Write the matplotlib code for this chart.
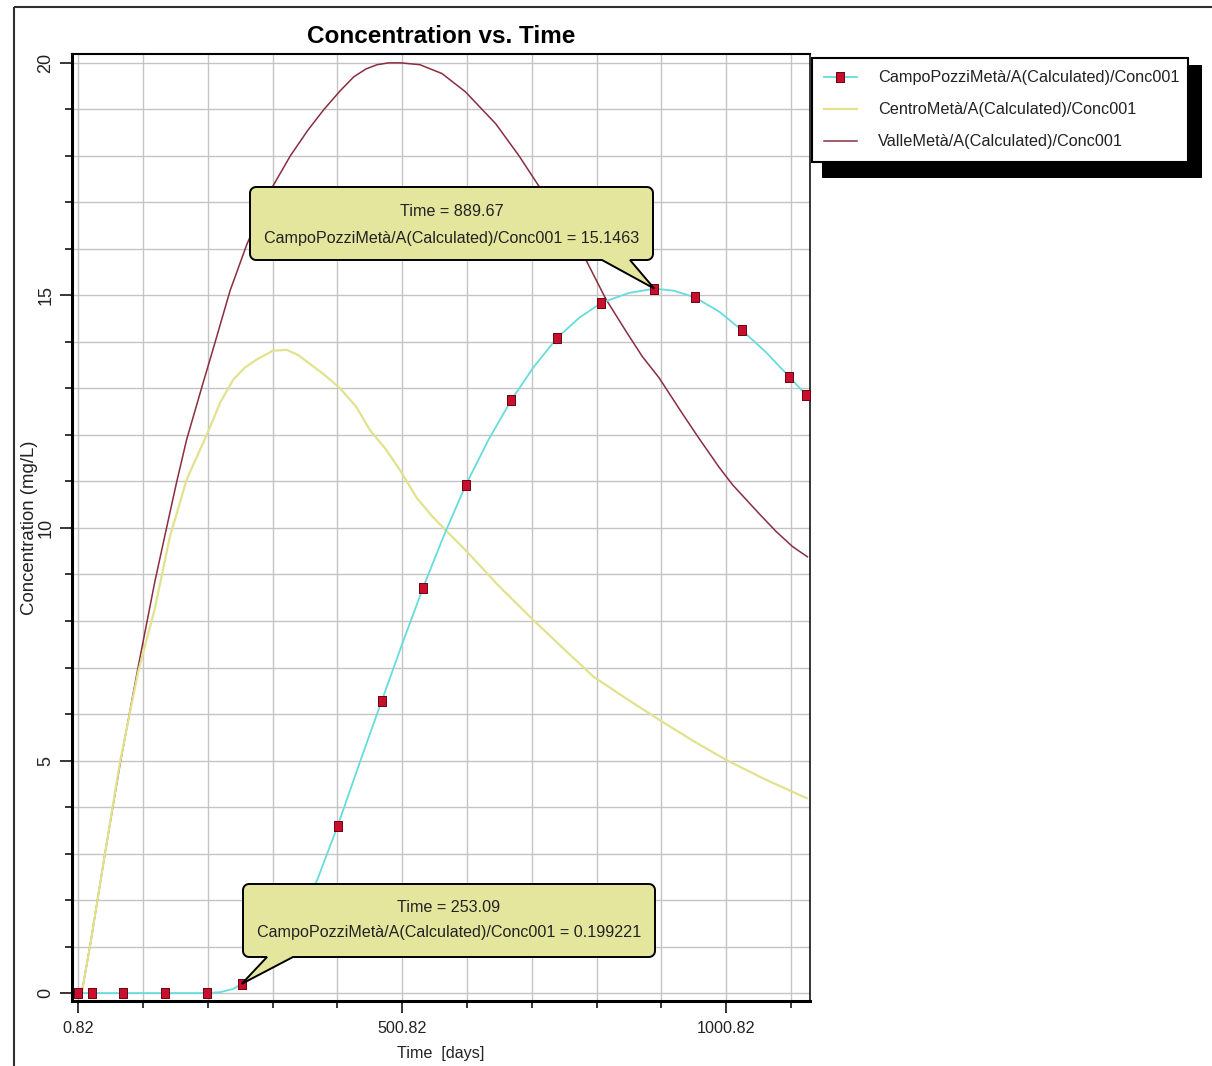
import matplotlib
matplotlib.use("Agg")
import matplotlib.pyplot as plt
import numpy as np
import matplotlib.transforms as mtransforms
from matplotlib.patches import Polygon, Rectangle

# values
campo_t = [0.82, 22, 70, 134, 200, 220, 240, 253.09, 270, 290, 310, 330, 350, 370,
           401, 435, 469, 501, 533, 566, 599, 634, 669, 704, 740, 774, 808, 850,
           889.67, 920, 952, 990, 1025, 1062, 1098, 1124]
campo_c = [0, 0, 0, 0, 0, 0.02, 0.09, 0.199221, 0.4, 0.7, 1.05, 1.45, 1.9, 2.45,
           3.59, 4.95, 6.28, 7.52, 8.72, 9.87, 10.93, 11.9, 12.75, 13.47, 14.09, 14.52,
           14.84, 15.05, 15.1463, 15.1, 14.96, 14.65, 14.25, 13.78, 13.25, 12.86]
campo_marks = [0, 1, 2, 3, 4, 7, 11, 14, 16, 18, 20, 22, 24, 26, 28, 30, 32, 34, 35]

centro_t = [6, 20, 42, 65, 93, 119, 142, 168, 199, 220, 240, 258, 276, 301, 322, 340,
            358, 380, 405, 430, 451, 475, 497, 523, 547, 575, 600, 650, 703, 750, 796,
            850, 898, 950, 1001, 1060, 1125]
centro_c = [0, 1.1, 3.0, 4.95, 6.9, 8.27, 9.8, 11.04, 12.0, 12.7, 13.19, 13.45, 13.62,
            13.81, 13.83, 13.72, 13.53, 13.3, 13.0, 12.6, 12.1, 11.7, 11.25, 10.65, 10.25,
            9.85, 9.5, 8.75, 8.02, 7.4, 6.8, 6.3, 5.87, 5.42, 5.01, 4.6, 4.19]

valle_t = [6, 20, 42, 65, 93, 119, 137, 152, 168, 193, 210, 235, 261, 297, 328, 355,
           380, 405, 426, 445, 462, 480, 498, 528, 562, 598, 645, 681, 712, 753, 784,
           815, 846, 871, 897, 933, 959, 990, 1011, 1052, 1078, 1103, 1126]
valle_c = [0, 1.1, 3.0, 4.9, 7.0, 8.85, 10.0, 10.95, 11.9, 13.1, 13.9, 15.1, 16.1,
           17.25, 18.0, 18.55, 19.0, 19.4, 19.7, 19.87, 19.96, 20.0, 20.0, 19.96, 19.77,
           19.38, 18.69, 18.0, 17.34, 16.54, 15.77, 14.92, 14.23, 13.69, 13.23, 12.46,
           11.92, 11.3, 10.92, 10.3, 9.92, 9.6, 9.38]

series_labels = ["CampoPozziMetà/A(Calculated)/Conc001",
                 "CentroMetà/A(Calculated)/Conc001",
                 "ValleMetà/A(Calculated)/Conc001"]

x_major = [0.82, 500.82, 1000.82]
x_major_labels = ["0.82", "500.82", "1000.82"]
y_major = [0, 5, 10, 15, 20]

callouts = [(889.67, 15.1463), (253.09, 0.199221)]

SANS = ["Liberation Sans", "DejaVu Sans"]
plt.rcParams["font.family"] = SANS

W, H = 1212, 1066
fig = plt.figure(figsize=(W / 100, H / 100), dpi=100)
ax = fig.add_axes([72 / W, 1 - 1001 / H, (810 - 72) / W, (1001 - 54) / H])
ax.set_xlim(-8.9, 1130)
ax.set_ylim(-0.17, 20.19)

# image-pixel transform (origin top left)
px = mtransforms.Affine2D().scale(1 / W, -1 / H).translate(0, 1) + fig.transFigure

rect_marker = [(-0.41, -0.5), (0.41, -0.5), (0.41, 0.5), (-0.41, 0.5), (-0.41, -0.5)]

l_valle, = ax.plot(valle_t, valle_c, color="#8a2d3f", lw=1.1, zorder=3)
l_centro, = ax.plot(centro_t, centro_c, color="#e2e28e", lw=1.6, zorder=3)
l_campo, = ax.plot(campo_t, campo_c, color="#66dcdc", lw=1.3, marker=rect_marker,
                   markevery=campo_marks, ms=7.4, mfc="#c8102e", mec="#700010",
                   mew=0.7, zorder=4)

# ticks and grid
ax.set_xticks(x_major)
ax.set_xticklabels(x_major_labels)
ax.set_xticks(np.arange(0.82, 1130, 100), minor=True)
ax.set_yticks(y_major)
ax.set_yticks(np.arange(0, 21, 1), minor=True)
ax.tick_params(which="major", length=8.6, width=1.1, direction="out", pad=5.5,
               labelsize=11.6, labelcolor="#222222")
ax.tick_params(axis="y", which="major", pad=4)
ax.tick_params(which="minor", length=5, width=1.1, direction="out")
for lab in ax.get_yticklabels():
    lab.set_rotation(90)
    lab.set_fontsize(13)
    lab.set_va("center")
ax.grid(True, which="both", color="#c4c4c4", lw=1.0)
ax.set_axisbelow(True)

for side, lw in [("left", 2.2), ("bottom", 2.2), ("top", 1.5), ("right", 1.1)]:
    ax.spines[side].set_linewidth(lw)
    ax.spines[side].set_color("black")

ax.set_title("Concentration vs. Time", fontsize=17.5, fontweight="bold", pad=8)
ax.set_xlabel("Time  [days]", fontsize=11.6, color="#222222", va="top")
ax.xaxis.set_label_coords(0.5, -0.047)
ax.set_ylabel("Concentration (mg/L)", fontsize=13.4, color="#222222")
ax.yaxis.set_label_coords(-0.046, 0.5)

# legend
leg = fig.legend([l_campo, l_centro, l_valle], series_labels, loc="upper left",
                 bbox_to_anchor=(812 / W, 1 - 157 / H, 376 / W, 99 / H), mode="expand",
                 fontsize=11.7, numpoints=1, fancybox=False, framealpha=1,
                 edgecolor="black", borderpad=0.75, labelspacing=1.05,
                 handlelength=2.0, handletextpad=1.3, borderaxespad=0)
leg.get_frame().set_linewidth(1.5)
leg.set_zorder(5)
for txt in leg.get_texts():
    txt.set_color("#222222")

# hard black shadow behind the legend, offset down and right
fig.canvas.draw()
bb = leg.get_window_extent()
lx0, lx1 = bb.x0, bb.x1
ltop, lbot = H - bb.y1, H - bb.y0
fig.add_artist(Rectangle((lx0 + 10, ltop + 7), (lx1 + 14) - (lx0 + 10),
                         (lbot + 16) - (ltop + 7), transform=px, fc="black",
                         ec="none", zorder=4))

# outer frame
fig.add_artist(Rectangle((14, 7), 1400, 1200, transform=px, fill=False,
                         ec="#303030", lw=1.5, zorder=1))


def bubble(box, tail, tip_data, text_y):
    x0, y0, x1, y1 = box
    fx, fy = fig.transFigure.inverted().transform(ax.transData.transform(tip_data))
    tip = (fx * W, (1 - fy) * H)
    r = 6

    def arc(cx, cy, a0, a1):
        a = np.radians(np.linspace(a0, a1, 7))
        return list(zip(cx + r * np.cos(a), cy + r * np.sin(a)))

    pts = arc(x1 - r, y0 + r, -90, 0) + arc(x1 - r, y1 - r, 0, 90)
    pts += [(tail[1], y1), tip, (tail[0], y1)]
    pts += arc(x0 + r, y1 - r, 90, 180) + arc(x0 + r, y0 + r, 180, 270)
    fig.add_artist(Polygon(pts, closed=True, transform=px, fc="#e4e69e",
                           ec="black", lw=1.4, zorder=6))
    cx = (x0 + x1) / 2
    fig.text(cx, text_y[0], f"Time = {tip_data[0]}", transform=px, ha="center",
             va="center", fontsize=11.6, color="#222222", zorder=7)
    fig.text(cx, text_y[1], f"{series_labels[0]} = {tip_data[1]}", transform=px,
             ha="center", va="center", fontsize=11.6, color="#222222", zorder=7)


bubble((250, 187, 653, 260), (602, 630), callouts[0], (212, 238))
bubble((243, 884, 655, 957), (267, 293), callouts[1], (908, 933))

fig.savefig("out.png", dpi=100)
